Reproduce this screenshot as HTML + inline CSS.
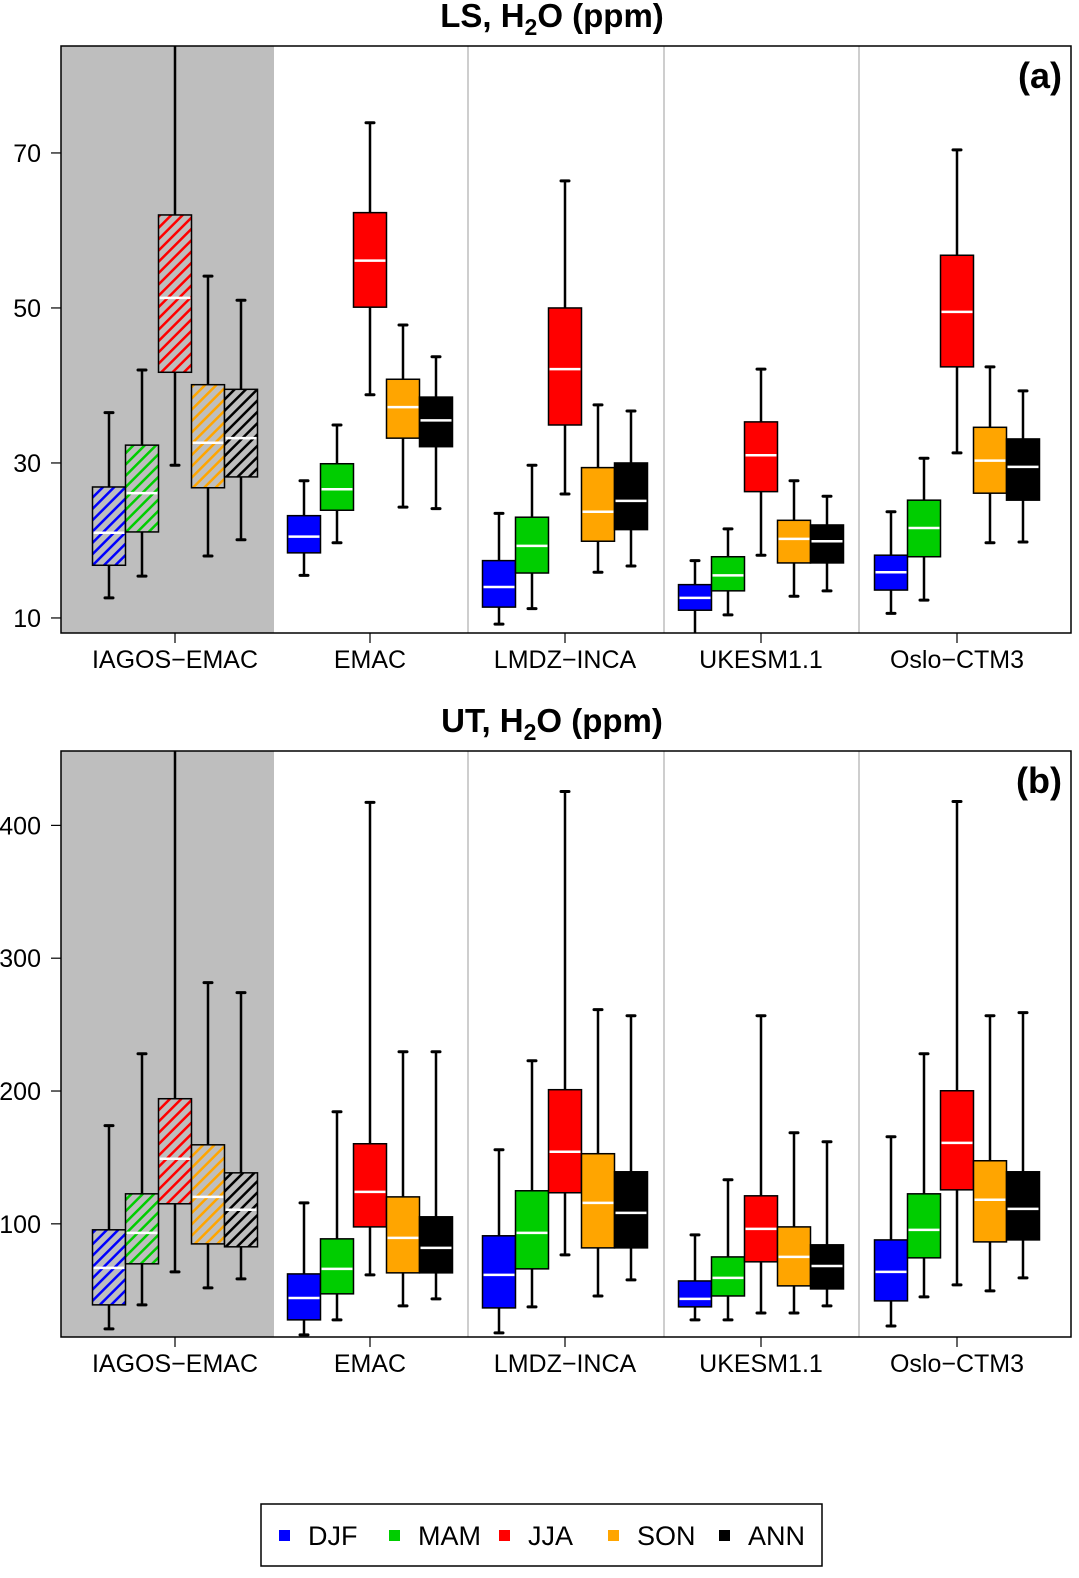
<!DOCTYPE html>
<html><head><meta charset="utf-8"><style>
html,body{margin:0;padding:0;background:#fff}
svg{display:block;font-family:"Liberation Sans",Arial,sans-serif}
</style></head><body>
<svg id="chart" width="1079" height="1578" viewBox="0 0 1079 1578" xmlns="http://www.w3.org/2000/svg">
<defs>
<pattern id="h0" patternUnits="userSpaceOnUse" width="8" height="8" patternTransform="rotate(45)"><rect width="8" height="8" fill="#bebebe"/><line x1="1" y1="0" x2="1" y2="8" stroke="#0000ff" stroke-width="3"/></pattern>
<pattern id="h1" patternUnits="userSpaceOnUse" width="8" height="8" patternTransform="rotate(45)"><rect width="8" height="8" fill="#bebebe"/><line x1="1" y1="0" x2="1" y2="8" stroke="#00cd00" stroke-width="3"/></pattern>
<pattern id="h2" patternUnits="userSpaceOnUse" width="8" height="8" patternTransform="rotate(45)"><rect width="8" height="8" fill="#bebebe"/><line x1="1" y1="0" x2="1" y2="8" stroke="#ff0000" stroke-width="3"/></pattern>
<pattern id="h3" patternUnits="userSpaceOnUse" width="8" height="8" patternTransform="rotate(45)"><rect width="8" height="8" fill="#bebebe"/><line x1="1" y1="0" x2="1" y2="8" stroke="#ffa500" stroke-width="3"/></pattern>
<pattern id="h4" patternUnits="userSpaceOnUse" width="8" height="8" patternTransform="rotate(45)"><rect width="8" height="8" fill="#bebebe"/><line x1="1" y1="0" x2="1" y2="8" stroke="#000000" stroke-width="3"/></pattern>
</defs>
<g id="panels"></g>
<g>
<rect x="261" y="1504" width="561" height="62" fill="#fff" stroke="#000" stroke-width="1.5"/>
<g id="legend"></g>
</g>
</svg>
<script>
const models = ["IAGOS\u2212EMAC","EMAC","LMDZ\u2212INCA","UKESM1.1","Oslo\u2212CTM3"];
const seasons = ["DJF","MAM","JJA","SON","ANN"];
const colors = ["#0000ff","#00cd00","#ff0000","#ffa500","#000000"];
// each entry: [lowWhisker, q1, median, q3, highWhisker] per model per season
const lsData = [
 [[12.6,16.8,21.0,26.9,36.5],[15.4,21.1,26.1,32.3,42.0],[29.7,41.7,51.3,62.0,90],[18.0,26.8,32.6,40.1,54.1],[20.1,28.2,33.2,39.5,51.0]],
 [[15.5,18.4,20.5,23.2,27.7],[19.7,23.9,26.6,29.9,34.9],[38.8,50.1,56.1,62.3,73.9],[24.3,33.2,37.2,40.8,47.8],[24.1,32.1,35.5,38.5,43.7]],
 [[9.2,11.4,14.0,17.4,23.5],[11.2,15.8,19.3,23.0,29.7],[26.0,34.9,42.1,50.0,66.4],[15.9,19.9,23.7,29.4,37.5],[16.7,21.4,25.1,30.0,36.7]],
 [[7.9,11.0,12.6,14.3,17.4],[10.4,13.5,15.5,17.9,21.5],[18.1,26.3,31.0,35.3,42.1],[12.8,17.1,20.2,22.6,27.7],[13.5,17.1,19.9,22.0,25.7]],
 [[10.6,13.6,15.9,18.1,23.7],[12.3,17.9,21.6,25.2,30.6],[31.3,42.4,49.5,56.8,70.4],[19.7,26.1,30.3,34.6,42.4],[19.8,25.2,29.5,33.1,39.3]]
];
const utData = [
 [[20.9,39.0,66.8,95.5,173.9],[39.0,69.9,93.2,122.6,228.1],[63.8,115.1,149.0,194.2,480],[51.8,84.9,120.3,159.5,281.6],[58.6,82.7,110.6,138.4,274.1]],
 [[16.4,27.7,44.2,62.3,115.8],[27.7,47.3,66.1,88.7,184.4],[61.6,97.7,124.1,160.3,417.3],[38.2,63.1,89.4,120.3,229.6],[43.5,63.1,81.9,105.3,229.6]],
 [[17.9,36.7,61.6,91.0,155.8],[37.5,66.1,93.2,124.9,222.8],[76.6,123.4,154.3,201.0,425.5],[45.7,81.9,115.8,152.8,261.3],[57.8,81.9,108.3,139.2,256.7]],
 [[27.7,37.5,43.5,57.0,91.7],[27.7,45.7,59.3,75.1,133.2],[32.9,71.4,96.2,121.1,256.7],[32.9,53.3,75.1,97.7,168.6],[38.2,51.0,68.3,84.2,161.8]],
 [[23.1,42.0,63.8,87.9,165.6],[45.0,74.4,95.5,122.6,228.1],[54.0,125.6,161.0,200.2,418.0],[49.5,86.4,118.1,147.5,256.7],[59.3,87.9,111.3,139.2,259.0]]
];
const lsTicks = [10,30,50,70];
const utTicks = [100,200,300,400];

const NS="http://www.w3.org/2000/svg";
function mk(tag,attrs,parent){const e=document.createElementNS(NS,tag);for(const k in attrs)e.setAttribute(k,attrs[k]);parent.appendChild(e);return e;}
const L=61,R=1071,centers=[175,370,565,761,957],offs=[-66,-33,0,33,66],BW=33;

function panel(id,top,bot,vmin,vmax,data,ticks,titleMain,tag){
  const g=mk('g',{},document.getElementById('panels'));
  
  
  const y=v=>bot-(v-vmin)/(vmax-vmin)*(bot-top);
  const bg=mk('rect',{x:L,y:top,width:213,height:bot-top,fill:'#bebebe'},g);
  
  
  [468,664,859].forEach(x=>mk('line',{x1:x,x2:x,y1:top,y2:bot,stroke:'#bebebe','stroke-width':1.5},g));
  const cp='clip-'+id;
  const cl=mk('clipPath',{id:cp},g);mk('rect',{x:L,y:top,width:R-L,height:bot-top},cl);
  const marks=mk('g',{'clip-path':'url(#'+cp+')'},g);
  data.forEach((md,mi)=>{md.forEach((s,si)=>{
    const cx=centers[mi]+offs[si];
    const bg2=mk('g',{},marks);
    
    
    mk('line',{x1:cx,x2:cx,y1:y(s[0]),y2:y(s[1]),stroke:'#000','stroke-width':2.5},bg2);
    mk('line',{x1:cx,x2:cx,y1:y(s[3]),y2:y(s[4]),stroke:'#000','stroke-width':2.5},bg2);
    mk('line',{x1:cx-4,x2:cx+4,y1:y(s[0]),y2:y(s[0]),stroke:'#000','stroke-width':3,'stroke-linecap':'round'},bg2);
    mk('line',{x1:cx-4,x2:cx+4,y1:y(s[4]),y2:y(s[4]),stroke:'#000','stroke-width':3,'stroke-linecap':'round'},bg2);
    mk('rect',{x:cx-BW/2,y:y(s[3]),width:BW,height:y(s[1])-y(s[3]),fill:mi===0?'url(#h'+si+')':colors[si],stroke:'#000','stroke-width':1.5},bg2);
    mk('line',{x1:cx-BW/2+1,x2:cx+BW/2-1,y1:y(s[2]),y2:y(s[2]),stroke:'#fff','stroke-width':2.5},bg2);
  });});
  mk('rect',{x:L,y:top,width:R-L,height:bot-top,fill:'none',stroke:'#000','stroke-width':1.5},g);
  const ax=mk('g',{},g);
  ticks.forEach(t=>{mk('line',{x1:51,x2:L,y1:y(t),y2:y(t),stroke:'#000','stroke-width':1.2},ax);
    const tx=mk('text',{x:41,y:y(t)+9,'text-anchor':'end','font-size':25},ax);tx.textContent=t;});
  const xa=mk('g',{},g);
  models.forEach((m,i)=>{mk('line',{x1:centers[i],x2:centers[i],y1:bot,y2:bot+10,stroke:'#000','stroke-width':1.2},xa);
    const tx=mk('text',{x:centers[i],y:bot+35,'text-anchor':'middle','font-size':25},xa);tx.textContent=m;});
  const tt=mk('text',{x:552,y:top-19,'text-anchor':'middle','font-size':33,'font-weight':'bold'},g);
  
  tt.innerHTML=titleMain+', H<tspan font-size="23" dy="8">2</tspan><tspan dy="-8">O (ppm)</tspan>';
  const tg=mk('text',{x:1062,y:top+42,'text-anchor':'end','font-size':36,'font-weight':'bold'},g);
  tg.textContent=tag;
}
panel('panel-ls',46,633,8.06,83.8,lsData,lsTicks,'LS','(a)');
panel('panel-ut',751,1337,14.8,456,utData,utTicks,'UT','(b)');

const lg=document.getElementById('legend');
const lx=[285,395,505,614,725];
seasons.forEach((s,i)=>{
  const e=mk('g',{},lg);
  
  
  mk('rect',{x:lx[i]-6,y:1530,width:11,height:11,fill:colors[i]},e);
  const t=mk('text',{x:lx[i]+23,y:1545,'font-size':27},e);t.textContent=s;
});
</script>
</body></html>
